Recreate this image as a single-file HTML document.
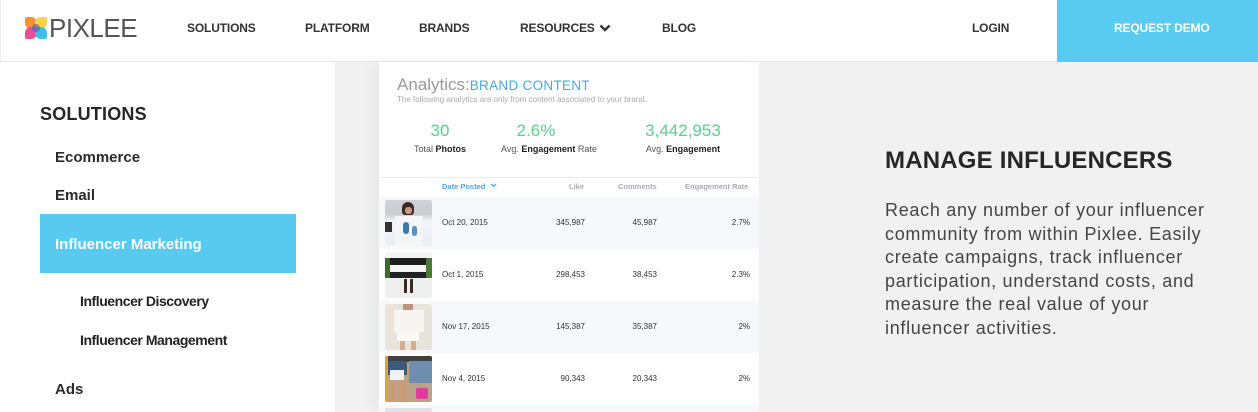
<!DOCTYPE html>
<html><head><meta charset="utf-8">
<style>
*{margin:0;padding:0;box-sizing:border-box}
html,body{width:1258px;height:412px;overflow:hidden;background:#f1f1f1;font-family:"Liberation Sans",sans-serif;position:relative}
.a{position:absolute;white-space:nowrap}
#hdr{position:absolute;left:0;top:0;width:1258px;height:62px;background:#fff;border-bottom:1px solid #e6e6e6}
.nav{position:absolute;top:21px;font-size:12px;font-weight:bold;color:#333;letter-spacing:-0.15px}
#demo{position:absolute;left:1057px;top:0;width:201px;height:62px;background:#59cbf1}
#side{position:absolute;left:0;top:62px;width:335px;height:350px;background:#fff;overflow:hidden}
.si{position:absolute;left:55px;font-size:15px;font-weight:bold;color:#2b2b2b}
.sub{position:absolute;left:80px;font-size:14px;color:#222;font-weight:bold;letter-spacing:-0.45px}
#card{position:absolute;left:379px;top:62px;width:380px;height:350px;background:#fff;box-shadow:-6px 0 12px rgba(0,0,0,0.04);overflow:hidden}
.row{position:absolute;left:0;width:380px;height:52px}
.alt{background:#f6f8fb}
.th{position:absolute;left:6px;top:3px;width:47px;height:46px;border-radius:2px;overflow:hidden}
.c{position:absolute;top:21px;font-size:8px;color:#333}
.r{text-align:right}
.stat{position:absolute;font-size:17px;color:#5ccf8f;text-align:center}
.lab{position:absolute;font-size:9px;color:#555;text-align:center}
.lab b{color:#222}
.hd{position:absolute;top:120px;font-size:7.5px;font-weight:bold;color:#aab}
#wrap{position:absolute;left:0;top:0;width:1258px;height:412px;overflow:hidden}
</style></head><body>
<div id="wrap">
<div id="hdr">
  <div class="a" style="left:0;top:0;width:1px;height:61px;background:#eee"></div>
  <div class="a" style="left:25px;top:17px;width:22px;height:22px">
    <div class="a" style="left:0;top:0;width:12px;height:12px;background:#f7913c;border-radius:2px 6px 2px 6px"></div>
    <div class="a" style="left:10px;top:0;width:12px;height:12px;background:#fbd24a;border-radius:6px 2px 6px 2px"></div>
    <div class="a" style="left:0;top:10px;width:12px;height:12px;background:#ec4f9a;border-radius:6px 2px 6px 2px"></div>
    <div class="a" style="left:10px;top:10px;width:12px;height:12px;background:#3bc1e8;border-radius:2px 6px 2px 6px"></div>
    <div class="a" style="left:7px;top:7px;width:8px;height:8px;background:#6a5bb0;border-radius:50%;opacity:.7"></div>
  </div>
  <div class="a" style="left:49px;top:13px;font-size:26px;color:#555;letter-spacing:-0.5px;font-weight:300">PIXLEE</div>
  <div class="nav" style="left:187px">SOLUTIONS</div>
  <div class="nav" style="left:305px">PLATFORM</div>
  <div class="nav" style="left:419px">BRANDS</div>
  <div class="nav" style="left:520px">RESOURCES</div>
  <svg class="a" style="left:599px;top:24px" width="12" height="8" viewBox="0 0 12 8"><path d="M1.5 1.5 L6 6 L10.5 1.5" stroke="#333" stroke-width="2.4" fill="none"/></svg>
  <div class="nav" style="left:662px">BLOG</div>
  <div class="nav" style="left:972px">LOGIN</div>
  <div id="demo"><div class="nav" style="left:57px;color:#fff">REQUEST DEMO</div></div>
</div>

<div id="side">
  <div class="a" style="left:40px;top:42px;font-size:18px;font-weight:bold;color:#262626;letter-spacing:0.2px">SOLUTIONS</div>
  <div class="si" style="top:87px">Ecommerce</div>
  <div class="si" style="top:125px">Email</div>
  <div class="a" style="left:40px;top:152px;width:256px;height:59px;background:#58caf0"></div>
  <div class="si" style="top:174px;color:#fff">Influencer Marketing</div>
  <div class="sub" style="top:231px">Influencer Discovery</div>
  <div class="sub" style="top:270px">Influencer Management</div>
  <div class="si" style="top:319px">Ads</div>
</div>

<div id="card">
  <div class="a" style="left:18px;top:13px;font-size:17px;color:#9a9a9a">Analytics:<span style="font-size:13.5px;color:#4aa9e2;letter-spacing:0.3px">BRAND CONTENT</span></div>
  <div class="a" style="left:18px;top:33px;font-size:8px;color:#aaa">The following analytics are only from content associated to your brand.</div>
  <div class="stat" style="left:11px;width:100px;top:59px">30</div>
  <div class="stat" style="left:107px;width:100px;top:59px">2.6%</div>
  <div class="stat" style="left:254px;width:100px;top:59px">3,442,953</div>
  <div class="lab" style="left:11px;width:100px;top:82px">Total <b>Photos</b></div>
  <div class="lab" style="left:110px;width:120px;top:82px">Avg. <b>Engagement</b> Rate</div>
  <div class="lab" style="left:254px;width:100px;top:82px">Avg. <b>Engagement</b></div>
  <div class="a" style="left:0;top:115px;width:380px;height:1px;background:#ececec"></div>
  <div class="hd" style="left:63px;color:#4aa9e2">Date Posted</div>
  <svg class="a" style="left:111px;top:121px" width="7" height="5" viewBox="0 0 7 5"><path d="M1 1 L3.5 3.5 L6 1" stroke="#4aa9e2" stroke-width="1.3" fill="none"/></svg>
  <div class="hd" style="left:190px">Like</div>
  <div class="hd" style="left:239px">Comments</div>
  <div class="hd" style="left:306px">Engagement Rate</div>

  <div class="row alt" style="top:135px">
    <div class="th" style="background:linear-gradient(180deg,#cfd3d8 0%,#c9ccd0 30%,#f2f3f5 45%,#e9eef5 100%)">
      <div class="a" style="left:17px;top:2px;width:12px;height:13px;background:#3a2a25;border-radius:6px 6px 3px 3px"></div>
      <div class="a" style="left:20px;top:7px;width:7px;height:7px;background:#c79a84;border-radius:3px"></div>
      <div class="a" style="left:10px;top:16px;width:28px;height:30px;background:#f4f5f7"></div>
      <div class="a" style="left:18px;top:22px;width:6px;height:12px;background:#3c78b4;border-radius:3px"></div>
      <div class="a" style="left:27px;top:26px;width:5px;height:10px;background:#5a8fc2;border-radius:3px"></div>
      <div class="a" style="left:0;top:22px;width:7px;height:10px;background:#333"></div>
    </div>
    <div class="c" style="left:63px">Oct 20, 2015</div>
    <div class="c r" style="left:150px;width:56px">345,987</div>
    <div class="c r" style="left:220px;width:58px">45,987</div>
    <div class="c r" style="left:320px;width:51px">2.7%</div>
  </div>
  <div class="row" style="top:187px">
    <div class="th" style="background:#eef0ee">
      <div class="a" style="left:0;top:0;width:47px;height:6px;background:#f5f5f5"></div>
      <div class="a" style="left:0;top:6px;width:47px;height:7px;background:#1e1e1e"></div>
      <div class="a" style="left:0;top:13px;width:47px;height:7px;background:#f4f4f4"></div>
      <div class="a" style="left:0;top:20px;width:47px;height:6px;background:#222"></div>
      <div class="a" style="left:0;top:6px;width:5px;height:20px;background:#3f6a2e"></div>
      <div class="a" style="left:41px;top:6px;width:6px;height:20px;background:#4b7a35"></div>
      <div class="a" style="left:19px;top:27px;width:3px;height:14px;background:#3a2a22"></div>
      <div class="a" style="left:25px;top:27px;width:3px;height:14px;background:#3a2a22"></div>
    </div>
    <div class="c" style="left:63px">Oct 1, 2015</div>
    <div class="c r" style="left:150px;width:56px">298,453</div>
    <div class="c r" style="left:220px;width:58px">38,453</div>
    <div class="c r" style="left:320px;width:51px">2.3%</div>
  </div>
  <div class="row alt" style="top:239px">
    <div class="th" style="background:#e8e4dc">
      <div class="a" style="left:18px;top:0;width:10px;height:6px;background:#b9937a"></div>
      <div class="a" style="left:9px;top:6px;width:30px;height:22px;background:#f7f5f1"></div>
      <div class="a" style="left:12px;top:28px;width:22px;height:9px;background:#faf9f6"></div>
      <div class="a" style="left:15px;top:37px;width:5px;height:9px;background:#d4ad92"></div>
      <div class="a" style="left:26px;top:37px;width:5px;height:9px;background:#d4ad92"></div>
    </div>
    <div class="c" style="left:63px">Nov 17, 2015</div>
    <div class="c r" style="left:150px;width:56px">145,387</div>
    <div class="c r" style="left:220px;width:58px">35,387</div>
    <div class="c r" style="left:320px;width:51px">2%</div>
  </div>
  <div class="row" style="top:291px">
    <div class="th" style="background:#b9a488">
      <div class="a" style="left:0;top:0;width:47px;height:6px;background:#40403c"></div>
      <div class="a" style="left:0;top:5px;width:22px;height:14px;background:#3d5a7c"></div>
      <div class="a" style="left:24px;top:5px;width:23px;height:22px;background:#6f8db1"></div>
      <div class="a" style="left:5px;top:14px;width:14px;height:10px;background:#f2f2f2"></div>
      <div class="a" style="left:4px;top:24px;width:7px;height:22px;background:#c99b78"></div>
      <div class="a" style="left:14px;top:24px;width:7px;height:22px;background:#c99b78"></div>
      <div class="a" style="left:31px;top:32px;width:12px;height:11px;background:#e03c9a;border-radius:2px"></div>
      <div class="a" style="left:0;top:0;width:3px;height:46px;background:#e0a52c"></div>
    </div>
    <div class="c" style="left:63px">Nov 4, 2015</div>
    <div class="c r" style="left:150px;width:56px">90,343</div>
    <div class="c r" style="left:220px;width:58px">20,343</div>
    <div class="c r" style="left:320px;width:51px">2%</div>
  </div>
  <div class="row alt" style="top:343px;height:7px">
    <div class="th" style="background:#dfe3e8;height:4px;border-radius:2px 2px 0 0"></div>
  </div>
</div>

<div class="a" style="left:885px;top:147px;font-size:24px;font-weight:bold;color:#262626;letter-spacing:0.2px">MANAGE INFLUENCERS</div>
<div class="a" style="left:885px;top:199px;width:370px;height:142px;font-size:18px;line-height:23.6px;color:#454545;white-space:normal;letter-spacing:0.7px">Reach any number of your influencer<br>community from within Pixlee. Easily<br>create campaigns, track influencer<br>participation, understand costs, and<br>measure the real value of your<br>influencer activities.</div>
</div>
</body></html>
